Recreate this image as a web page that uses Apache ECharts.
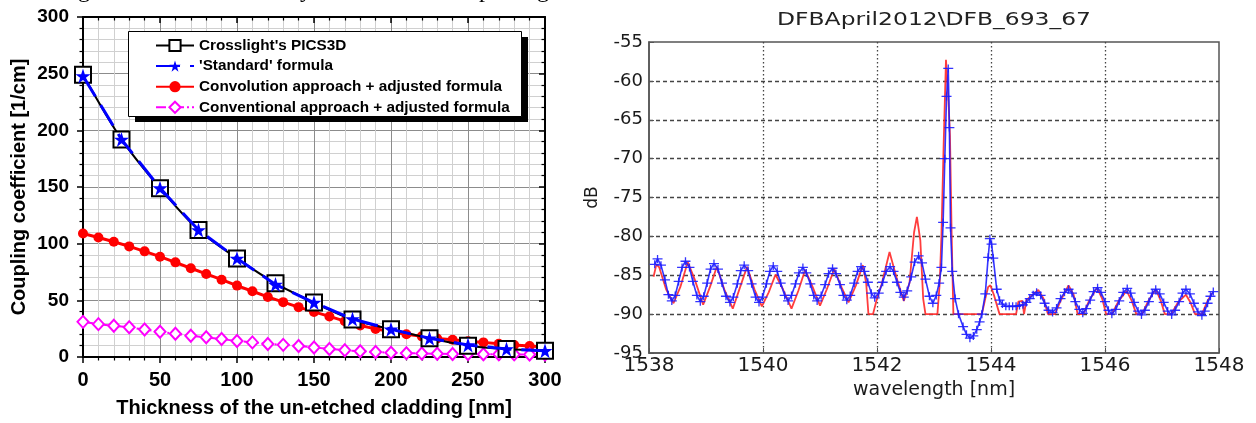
<!DOCTYPE html>
<html><head><meta charset="utf-8">
<script src="https://cdn.jsdelivr.net/npm/echarts@6/dist/echarts.min.js"></script>
<style>html,body{margin:0;padding:0;background:#fff;}#c{width:1256px;height:423px;}</style>
</head><body><div id="c"></div>
<script>
// ---------- Left chart data ----------
const thicknessSparse = [0, 25, 50, 75, 100, 125, 150, 175, 200, 225, 250, 275, 300];
const picsVals = [249, 192, 149, 112, 87, 65, 48, 33, 24.5, 16.5, 10, 7, 5.5];
const standardVals = [248, 192, 149, 112, 87, 64, 48, 33.5, 24.5, 16.5, 10.5, 7, 5.5];
const thicknessDense = [0,10,20,30,40,50,60,70,80,90,100,110,120,130,140,150,160,170,180,190,200,210,220,230,240,250,260,270,280,290,300];
const convolutionVals = [109,105.5,101.7,97.6,93.2,88.5,83.5,78.3,73.3,68.2,63,58,53,48.4,44,39.8,35.8,31.6,27.8,24.8,22.3,20,18.2,16.4,15.2,13.8,12.9,11.6,10.6,9.7,8.9];
const conventionalVals = [31,29,27.6,26.2,24.2,22.3,20.5,18.8,17.4,15.8,14.1,12.9,11.5,10.7,9.7,8.4,7.1,6.0,5.1,4.4,3.8,3.4,3.1,2.9,2.7,2.6,2.5,2.4,2.3,2.2,2.1];
const leftSeriesNames = ["Crosslight's PICS3D", "'Standard' formula", "Convolution approach + adjusted formula", "Conventional approach + adjusted formula"];

// ---------- Right chart data ----------
const blueX = [1538.10,1538.15,1538.21,1538.28,1538.34,1538.40,1538.46,1538.52,1538.58,1538.64,1538.71,1538.77,1538.84,1538.90,1538.96,1539.02,1539.08,1539.14,1539.21,1539.28,1539.35,1539.42,1539.48,1539.55,1539.61,1539.67,1539.74,1539.80,1539.87,1539.93,1539.99,1540.06,1540.12,1540.18,1540.25,1540.31,1540.38,1540.44,1540.50,1540.57,1540.63,1540.70,1540.76,1540.83,1540.89,1540.95,1541.02,1541.09,1541.15,1541.22,1541.28,1541.35,1541.41,1541.47,1541.53,1541.60,1541.66,1541.72,1541.78,1541.84,1541.90,1541.96,1542.03,1542.10,1542.16,1542.23,1542.29,1542.35,1542.41,1542.47,1542.53,1542.60,1542.66,1542.73,1542.79,1542.85,1542.92,1542.98,1543.04,1543.09,1543.13,1543.16,1543.19,1543.22,1543.25,1543.27,1543.29,1543.32,1543.37,1543.43,1543.51,1543.57,1543.63,1543.69,1543.75,1543.80,1543.84,1543.90,1543.95,1543.98,1544.01,1544.04,1544.10,1544.15,1544.20,1544.26,1544.32,1544.38,1544.44,1544.50,1544.56,1544.62,1544.68,1544.74,1544.80,1544.87,1544.94,1545.01,1545.08,1545.15,1545.22,1545.29,1545.36,1545.42,1545.48,1545.55,1545.61,1545.67,1545.74,1545.80,1545.87,1545.93,1546.00,1546.06,1546.12,1546.19,1546.25,1546.32,1546.39,1546.45,1546.51,1546.58,1546.64,1546.70,1546.77,1546.83,1546.89,1546.96,1547.03,1547.10,1547.17,1547.23,1547.30,1547.36,1547.42,1547.49,1547.56,1547.63,1547.70,1547.75,1547.80,1547.85,1547.90];
const blueY = [-83.6,-82.9,-83.7,-85.6,-87.5,-88.3,-87.6,-85.8,-84.0,-83.2,-84.0,-85.8,-87.6,-88.4,-87.7,-86.0,-84.2,-83.5,-84.2,-86.0,-87.7,-88.5,-87.8,-86.1,-84.4,-83.7,-84.4,-86.1,-87.8,-88.5,-87.8,-86.1,-84.5,-83.8,-84.5,-86.0,-87.6,-88.3,-87.6,-86.1,-84.7,-84.0,-84.7,-86.1,-87.6,-88.3,-87.6,-86.2,-84.8,-84.1,-84.8,-86.2,-87.6,-88.2,-87.6,-86.0,-84.5,-83.9,-84.5,-85.9,-87.3,-87.9,-87.3,-85.9,-84.5,-83.9,-84.5,-85.9,-87.2,-87.8,-87.0,-85.2,-83.3,-82.5,-83.4,-85.5,-87.7,-88.6,-87.6,-86.0,-84.0,-78.2,-70.0,-62.0,-58.4,-66.0,-78.9,-84.5,-88.0,-90.0,-91.6,-92.6,-93.1,-92.8,-92.0,-91.0,-90.0,-87.4,-82.7,-80.3,-81.0,-82.8,-86.8,-88.2,-88.7,-89.0,-89.0,-89.0,-89.0,-88.9,-88.8,-88.5,-88.0,-87.5,-87.2,-87.6,-88.6,-89.5,-89.8,-89.2,-88.0,-87.2,-86.8,-87.3,-88.4,-89.4,-89.9,-89.3,-88.2,-87.1,-86.6,-87.2,-88.4,-89.5,-90.0,-89.4,-88.3,-87.2,-86.7,-87.3,-88.5,-89.6,-90.1,-89.5,-88.4,-87.3,-86.8,-87.4,-88.5,-89.6,-90.1,-89.5,-88.4,-87.3,-86.8,-87.4,-88.6,-89.7,-90.2,-89.6,-88.6,-87.7,-87.1];
const redX = [1538.08,1538.13,1538.18,1538.30,1538.43,1538.55,1538.68,1538.80,1538.95,1539.07,1539.19,1539.32,1539.47,1539.60,1539.72,1539.85,1539.98,1540.10,1540.22,1540.35,1540.50,1540.62,1540.74,1540.87,1541.00,1541.12,1541.25,1541.38,1541.50,1541.63,1541.75,1541.81,1541.85,1541.93,1542.00,1542.08,1542.22,1542.35,1542.47,1542.57,1542.65,1542.70,1542.76,1542.81,1542.85,1543.06,1543.10,1543.13,1543.17,1543.21,1543.25,1543.28,1543.31,1543.34,1543.84,1543.90,1543.95,1543.99,1544.05,1544.15,1544.44,1544.48,1544.55,1544.58,1544.62,1544.73,1544.83,1544.92,1545.00,1545.12,1545.22,1545.36,1545.45,1545.52,1545.62,1545.72,1545.86,1545.95,1546.02,1546.12,1546.24,1546.38,1546.47,1546.55,1546.65,1546.76,1546.89,1546.98,1547.05,1547.16,1547.28,1547.42,1547.50,1547.58,1547.70,1547.80,1547.88];
const redY = [-85.2,-83.6,-84.0,-86.8,-88.6,-86.5,-83.3,-85.5,-88.8,-86.5,-83.9,-86.8,-89.3,-86.5,-83.9,-86.8,-89.0,-87.2,-84.9,-86.8,-89.3,-87.0,-84.3,-86.5,-88.9,-86.8,-84.2,-86.6,-88.5,-86.3,-83.7,-86.0,-90.0,-90.0,-88.0,-86.2,-82.0,-85.5,-88.3,-86.0,-79.5,-77.5,-80.5,-88.0,-90.0,-90.0,-86.0,-80.0,-68.0,-57.3,-62.0,-67.0,-80.0,-90.0,-90.0,-88.0,-86.5,-86.3,-87.5,-90.0,-90.0,-88.4,-88.3,-90.0,-88.2,-87.5,-86.9,-88.0,-90.0,-90.0,-88.3,-86.3,-87.5,-90.0,-90.0,-88.3,-86.6,-88.0,-90.0,-90.0,-88.3,-87.0,-88.3,-90.0,-90.0,-88.3,-86.8,-88.3,-90.0,-90.0,-88.5,-87.5,-88.5,-90.0,-90.0,-88.3,-87.3];
const rightTitle = 'DFBApril2012\\DFB_693_67';

function zip(xs, ys) { return xs.map((x, i) => [x, ys[i]]); }

const STAR = 'path://M50,0L61.8,35.4L99,35.4L69,57.3L80.4,92.7L50,70.8L19.6,92.7L31,57.3L1,35.4L38.2,35.4Z';
const PLUS = 'path://M0,4.2H10V5.8H0Z M4.35,0H5.65V10H4.35Z';

const boldLbl = {color:'#000', fontFamily:'Liberation Sans', fontWeight:'bold'};
const rFont = 'DejaVu Sans';

const chart = echarts.init(document.getElementById('c'), null, {renderer:'canvas'});
const option = {
  animation: false,
  backgroundColor: '#fff',
  grid: [
    {left: 83, top: 17, width: 462, height: 341},
    {left: 649, top: 42, width: 570, height: 311, show: true, borderColor: '#555', borderWidth: 1.5, backgroundColor: 'rgba(0,0,0,0)'}
  ],
  legend: {
    data: leftSeriesNames,
    orient: 'vertical',
    left: 128, top: 31,
    padding: [7, 8, 7, 27],
    itemGap: 5.6, itemWidth: 38, itemHeight: 14,
    backgroundColor: 'rgba(0,0,0,0)', borderWidth: 0,
    textStyle: {color:'#000', fontFamily:'Liberation Sans', fontWeight:'bold', fontSize:15.3},
    selectedMode: false, z: 20
  },
  xAxis: [
    {gridIndex:0, type:'value', min:0, max:300, interval:50, position:'bottom',
     axisLine:{show:true, onZero:false, lineStyle:{color:'#000', width:2}},
     axisTick:{show:true, inside:false, length:6, lineStyle:{color:'#000', width:1.5}},
     minorTick:{show:true, splitNumber:5, length:3.5, lineStyle:{color:'#000', width:1.2}},
     splitLine:{show:true, lineStyle:{color:'#8c8c8c', width:1}},
     minorSplitLine:{show:true, lineStyle:{color:'#d0d0d0', width:1}},
     axisLabel:Object.assign({fontSize:20, margin:13}, boldLbl),
     name:'Thickness of the un-etched cladding [nm]', nameLocation:'middle', nameGap:41,
     nameTextStyle:Object.assign({fontSize:20}, boldLbl)},
    {gridIndex:0, type:'value', min:0, max:300, interval:50, position:'top',
     axisLine:{show:true, onZero:false, lineStyle:{color:'#000', width:2}},
     axisTick:{show:true, inside:true, length:6, lineStyle:{color:'#000', width:1.5}},
     minorTick:{show:true, splitNumber:5, length:3.5, lineStyle:{color:'#000', width:1.2}},
     splitLine:{show:false}, axisLabel:{show:false}},
    {gridIndex:1, type:'value', min:1538, max:1548, interval:2, position:'bottom',
     axisLine:{show:true, onZero:false, lineStyle:{color:'#555', width:1.5}},
     axisTick:{show:true, inside:true, length:5, lineStyle:{color:'#555'}},
     splitLine:{show:true, showMinLine:false, showMaxLine:false, lineStyle:{color:'#444', width:1.3, type:[1.5, 2.5]}},
     axisLabel:{color:'#1a1a1a', fontFamily:rFont, fontSize:20, margin:3, formatter: v => String(v)},
     name:'wavelength [nm]', nameLocation:'middle', nameGap:26,
     nameTextStyle:{color:'#1a1a1a', fontFamily:rFont, fontSize:19}}
  ],
  yAxis: [
    {gridIndex:0, type:'value', min:0, max:300, interval:50, position:'left',
     axisLine:{show:true, onZero:false, lineStyle:{color:'#000', width:2}},
     axisTick:{show:true, inside:false, length:6, lineStyle:{color:'#000', width:1.5}},
     minorTick:{show:true, splitNumber:5, length:3.5, lineStyle:{color:'#000', width:1.2}},
     splitLine:{show:true, lineStyle:{color:'#8c8c8c', width:1}},
     minorSplitLine:{show:true, lineStyle:{color:'#d0d0d0', width:1}},
     axisLabel:Object.assign({fontSize:19, margin:14}, boldLbl),
     name:'Coupling coefficient [1/cm]', nameLocation:'middle', nameGap:54,
     nameTextStyle:Object.assign({fontSize:20}, boldLbl)},
    {gridIndex:0, type:'value', min:0, max:300, interval:50, position:'right',
     axisLine:{show:true, onZero:false, lineStyle:{color:'#000', width:2}},
     axisTick:{show:true, inside:true, length:6, lineStyle:{color:'#000', width:1.5}},
     minorTick:{show:true, splitNumber:5, length:3.5, lineStyle:{color:'#000', width:1.2}},
     splitLine:{show:false}, axisLabel:{show:false}},
    {gridIndex:1, type:'value', min:-95, max:-55, interval:5, position:'left',
     axisLine:{show:true, onZero:false, lineStyle:{color:'#555', width:1.5}},
     axisTick:{show:true, inside:true, length:5, lineStyle:{color:'#555'}},
     splitLine:{show:true, showMinLine:false, showMaxLine:false, lineStyle:{color:'#444', width:1.3, type:[4, 3]}},
     axisLabel:{color:'#1a1a1a', fontFamily:rFont, fontSize:18, margin:6},
     name:'dB', nameLocation:'middle', nameGap:48,
     nameTextStyle:{color:'#1a1a1a', fontFamily:rFont, fontSize:17}}
  ],
  series: [
    {name:leftSeriesNames[2], type:'line', xAxisIndex:0, yAxisIndex:0,
     data: zip(thicknessDense, convolutionVals),
     symbol:'circle', symbolSize:10, lineStyle:{color:'#ff0000', width:3},
     itemStyle:{color:'#ff0000'}, z:2},
    {name:leftSeriesNames[3], type:'line', xAxisIndex:0, yAxisIndex:0,
     data: zip(thicknessDense, conventionalVals),
     symbol:'emptyDiamond', symbolSize:[11,12], lineStyle:{color:'#ff00ff', width:2, type:[10,3,2,3]},
     itemStyle:{color:'#ff00ff', borderWidth:1.5}, z:3},
    {name:leftSeriesNames[0], type:'line', xAxisIndex:0, yAxisIndex:0,
     data: zip(thicknessSparse, picsVals), smooth:0.3,
     symbol:'emptyRect', symbolSize:16, lineStyle:{color:'#000', width:2},
     itemStyle:{color:'#000', borderWidth:2}, z:4},
    {name:leftSeriesNames[1], type:'line', xAxisIndex:0, yAxisIndex:0,
     data: zip(thicknessSparse, standardVals),
     symbol:STAR, symbolSize:15, lineStyle:{color:'#0000ff', width:3, type:[24,10]},
     itemStyle:{color:'#0000ff'}, z:5},
    {name:'measured', type:'line', xAxisIndex:2, yAxisIndex:2,
     data: zip(redX, redY), showSymbol:false, symbol:'none',
     lineStyle:{color:'rgba(255,40,40,0.9)', width:1.8}, z:2},
    {name:'simulated', type:'line', xAxisIndex:2, yAxisIndex:2,
     data: zip(blueX, blueY), symbol:PLUS, symbolSize:[10,8],
     lineStyle:{color:'rgba(30,30,255,0.9)', width:1.6},
     itemStyle:{color:'rgba(30,30,255,0.9)'}, z:3}
  ],
  graphic: [
    {type:'rect', z:18, shape:{x:135, y:37, width:393, height:85}, style:{fill:'#000'}},
    {type:'rect', z:19, shape:{x:128.5, y:31.5, width:393, height:85}, style:{fill:'#fff', stroke:'#000', lineWidth:1}},
    {type:'text', x:934, y:20, scaleX:1.3, style:{text:rightTitle, font:'18px "DejaVu Sans"', fill:'#222', align:'center', verticalAlign:'middle', textAlign:'center', textVerticalAlign:'middle'}},
    {type:'text', x:84, y:-9, style:{text:'g', font:'24px "Liberation Serif"', fill:'#000', align:'center', verticalAlign:'middle'}},
    {type:'text', x:306, y:-9, style:{text:'y', font:'24px "Liberation Serif"', fill:'#000', align:'center', verticalAlign:'middle'}},
    {type:'text', x:485, y:-9, style:{text:'p', font:'24px "Liberation Serif"', fill:'#000', align:'center', verticalAlign:'middle'}},
    {type:'text', x:543, y:-9, style:{text:'g', font:'24px "Liberation Serif"', fill:'#000', align:'center', verticalAlign:'middle'}}
  ]
};
chart.setOption(option);
</script>
</body></html>
